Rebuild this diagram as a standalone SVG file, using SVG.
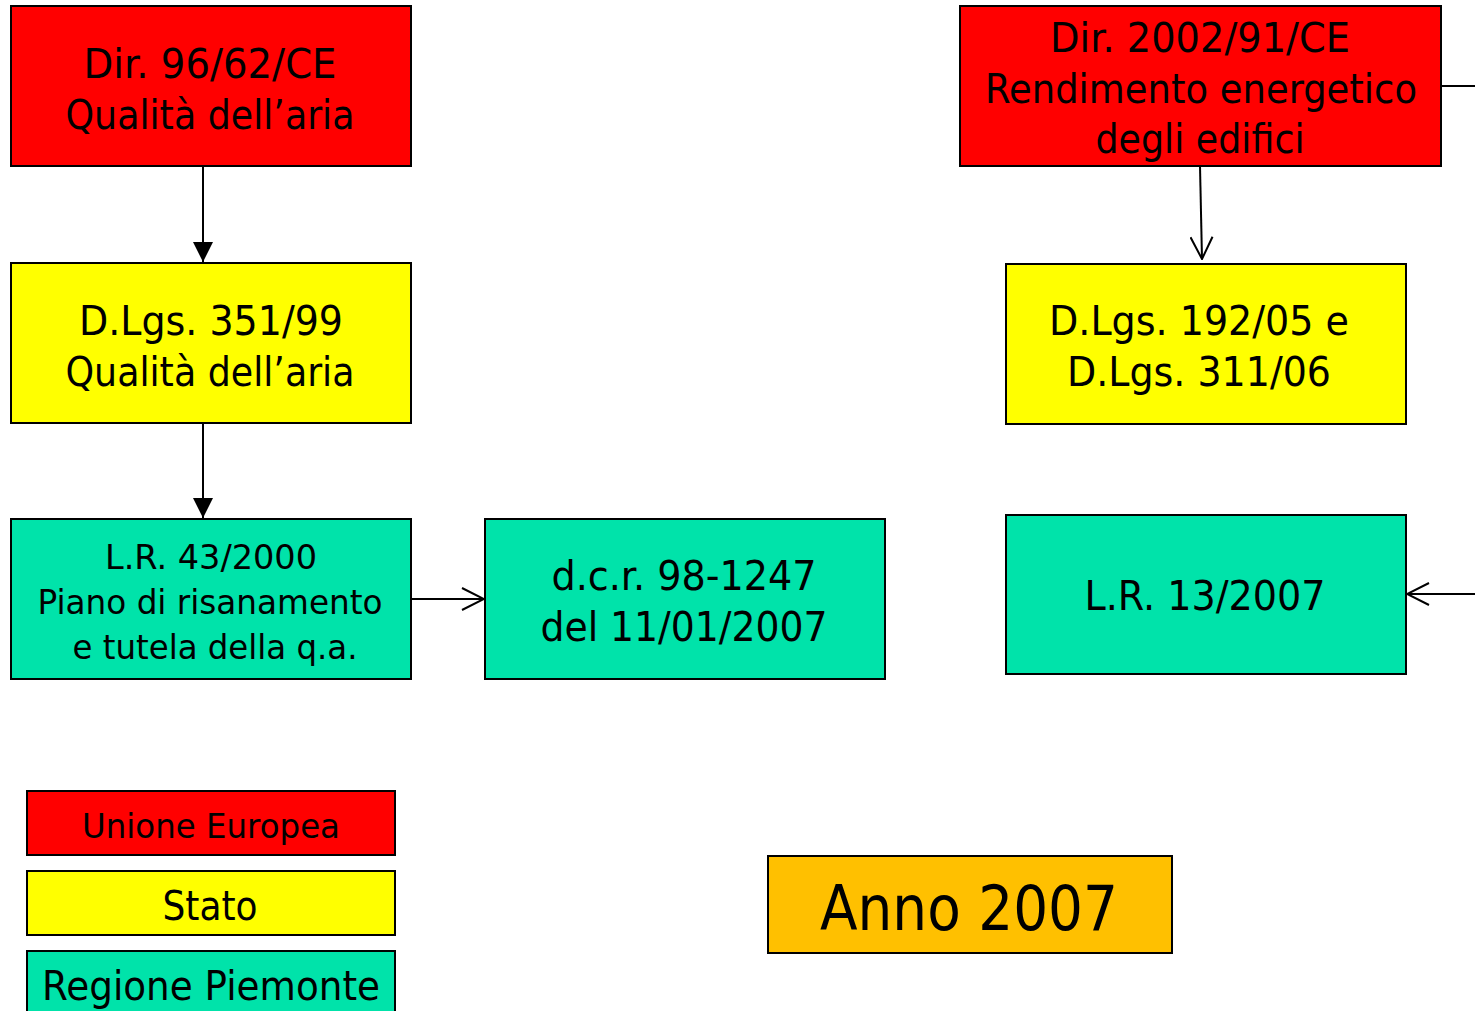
<svg xmlns="http://www.w3.org/2000/svg" width="1475" height="1011" viewBox="0 0 1475 1011">
<defs>
<style>
rect{stroke:#000;stroke-width:2}
.eu{fill:#FF0000}.st{fill:#FFFF00}.rp{fill:#00E3AA}.an{fill:#FFC000}
text{font-family:"DejaVu Sans","Liberation Sans",sans-serif;fill:#000;text-anchor:middle}
.f40{font-size:40px}.f34{font-size:34px}.f60{font-size:62px}
.c{stroke:#000;stroke-width:2;fill:none}
</style>
<marker id="tri" viewBox="0 0 20 20" refX="20" refY="10" markerUnits="userSpaceOnUse" markerWidth="20" markerHeight="20" orient="auto"><path d="M0,0 L20,10 L0,20 Z" fill="#000"/></marker>
<marker id="open" viewBox="0 0 24 24" refX="23" refY="12" markerUnits="userSpaceOnUse" markerWidth="24" markerHeight="24" orient="auto"><path d="M1,1 L23,12 L1,23" fill="none" stroke="#000" stroke-width="2"/></marker>
</defs>
<g id="connectors">
<path class="c" d="M203,166 V262" marker-end="url(#tri)"/>
<path class="c" d="M203,423 V518" marker-end="url(#tri)"/>
<path class="c" d="M411,599 H484" marker-end="url(#open)"/>
<path class="c" d="M1200,166 L1202,259" marker-end="url(#open)"/>
<path class="c" d="M1441,86 H1480 V594 H1407" marker-end="url(#open)"/>
</g>
<g id="dir9662">
<rect class="eu" x="11" y="6" width="400" height="160"/>
<text class="f40" x="210" y="78" textLength="253" lengthAdjust="spacingAndGlyphs">Dir. 96/62/CE</text>
<text class="f40" x="210" y="129" textLength="289" lengthAdjust="spacingAndGlyphs">Qualità dell’aria</text>
</g>
<g id="dlgs35199">
<rect class="st" x="11" y="263" width="400" height="160"/>
<text class="f40" x="211" y="335" textLength="264" lengthAdjust="spacingAndGlyphs">D.Lgs. 351/99</text>
<text class="f40" x="210" y="386" textLength="289" lengthAdjust="spacingAndGlyphs">Qualità dell’aria</text>
</g>
<g id="lr432000">
<rect class="rp" x="11" y="519" width="400" height="160"/>
<text class="f34" x="211" y="569" textLength="212" lengthAdjust="spacingAndGlyphs">L.R. 43/2000</text>
<text class="f34" x="210" y="614" textLength="345" lengthAdjust="spacingAndGlyphs">Piano di risanamento</text>
<text class="f34" x="215" y="659" textLength="285" lengthAdjust="spacingAndGlyphs">e tutela della q.a.</text>
</g>
<g id="dcr">
<rect class="rp" x="485" y="519" width="400" height="160"/>
<text class="f40" x="684" y="590" textLength="265" lengthAdjust="spacingAndGlyphs">d.c.r. 98-1247</text>
<text class="f40" x="684" y="641" textLength="287" lengthAdjust="spacingAndGlyphs">del 11/01/2007</text>
</g>
<g id="dir200291">
<rect class="eu" x="960" y="6" width="481" height="160"/>
<text class="f40" x="1200" y="52" textLength="300" lengthAdjust="spacingAndGlyphs">Dir. 2002/91/CE</text>
<text class="f40" x="1201" y="103" textLength="432" lengthAdjust="spacingAndGlyphs">Rendimento energetico</text>
<text class="f40" x="1200" y="153" textLength="209" lengthAdjust="spacingAndGlyphs">degli edifici</text>
</g>
<g id="dlgs19205">
<rect class="st" x="1006" y="264" width="400" height="160"/>
<text class="f40" x="1199" y="335" textLength="300" lengthAdjust="spacingAndGlyphs">D.Lgs. 192/05 e</text>
<text class="f40" x="1199" y="386" textLength="264" lengthAdjust="spacingAndGlyphs">D.Lgs. 311/06</text>
</g>
<g id="lr132007">
<rect class="rp" x="1006" y="515" width="400" height="159"/>
<text class="f40" x="1205" y="610" textLength="241" lengthAdjust="spacingAndGlyphs">L.R. 13/2007</text>
</g>
<g id="legend-ue">
<rect class="eu" x="27" y="791" width="368" height="64"/>
<text class="f34" x="211" y="838" textLength="258" lengthAdjust="spacingAndGlyphs">Unione Europea</text>
</g>
<g id="legend-stato">
<rect class="st" x="27" y="871" width="368" height="64"/>
<text class="f40" x="210" y="920" textLength="95" lengthAdjust="spacingAndGlyphs">Stato</text>
</g>
<g id="legend-regione">
<rect class="rp" x="27" y="951" width="368" height="70"/>
<text class="f40" x="211" y="1000" textLength="338" lengthAdjust="spacingAndGlyphs">Regione Piemonte</text>
</g>
<g id="anno">
<rect class="an" x="768" y="856" width="404" height="97"/>
<text class="f60" x="969" y="930" textLength="298" lengthAdjust="spacingAndGlyphs">Anno 2007</text>
</g>
</svg>
